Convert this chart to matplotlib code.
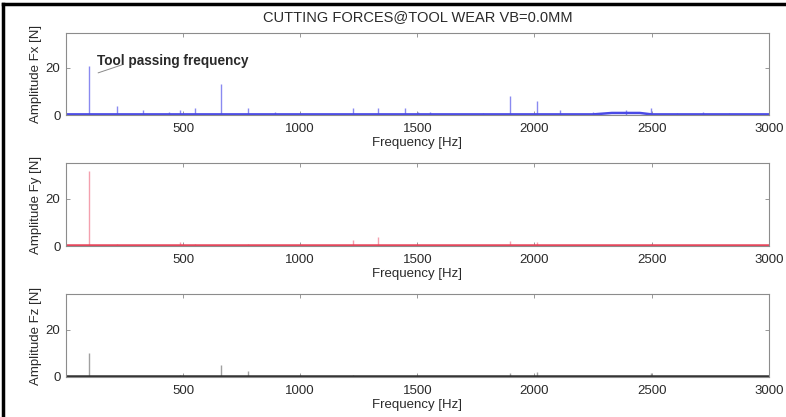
import numpy as np
import matplotlib
matplotlib.use('Agg')
from matplotlib import pyplot as plt
from matplotlib.lines import Line2D

plt.rcParams['font.family'] = ['Liberation Sans', 'DejaVu Sans']

# peak frequencies [Hz] and amplitudes [N]
fx_freq = [100, 217, 330, 440, 487, 551, 662, 778, 893, 1000, 1226, 1333, 1449,
           1504, 1556, 1780, 1897, 2009, 2111, 2250, 2390, 2496, 2610, 2720, 2830]
fx_amp = [21, 4, 2, 1.5, 2, 3, 13, 3, 1.5, 1, 3, 3, 3,
          1.5, 1.5, 1, 8, 6, 2, 1.5, 2, 3, 1, 1.5, 1]

fy_freq = [100, 217, 487, 551, 778, 1226, 1333, 1897, 2009, 2496]
fy_amp = [32, 1, 1.5, 1, 1, 2.5, 4, 2, 1.5, 1]

fz_freq = [100, 487, 662, 778, 1000, 1226, 1897, 2009, 2496]
fz_amp = [10, 1, 5, 2.5, 1, 1, 1.5, 2, 1.5]

# noise floor
floor_freq = [0, 2250, 2330, 2450, 2500, 3000]
fx_floor = [0.3, 0.3, 0.9, 0.9, 0.3, 0.3]
fy_floor = [0.3, 0.3, 0.3, 0.3, 0.3, 0.3]
fz_floor = [0.3, 0.3, 0.3, 0.3, 0.3, 0.3]

xticks = [500, 1000, 1500, 2000, 2500, 3000]
yticks = [0, 20]

panels = [
    ('Amplitude Fx [N]', fx_freq, fx_amp, fx_floor, '#4a4ae6', '#8a8af0'),
    ('Amplitude Fy [N]', fy_freq, fy_amp, fy_floor, '#e8445a', '#f4a0ae'),
    ('Amplitude Fz [N]', fz_freq, fz_amp, fz_floor, '#303030', '#a0a0a0'),
]

fig = plt.figure(figsize=(7.86, 4.17), dpi=100)
bottoms = [0.724, 0.410, 0.096]
txt = '#2a2a2a'

axes = []
for (lab, fr, amp, fl, col, pcol), b in zip(panels, bottoms):
    ax = fig.add_axes([0.084, b, 0.894, 0.198])
    ax.vlines(fr, 0, amp, color=pcol, lw=1.0)
    ax.plot(floor_freq, fl, color=col, lw=1.8)
    ax.set_xlim(0, 3000)
    ax.set_ylim(0, 35)
    ax.set_xticks(xticks)
    ax.set_yticks(yticks)
    ax.tick_params(direction='in', length=3, width=0.6, colors='#888888',
                   labelcolor=txt, labelsize=9.5, top=True, right=True)
    ax.tick_params(axis='x', pad=6)
    ax.tick_params(axis='y', pad=4)
    for s in ax.spines.values():
        s.set_color('#8c8c8c')
        s.set_linewidth(0.8)
    ax.set_xlabel('Frequency [Hz]', fontsize=9.5, color=txt, labelpad=1)
    ax.set_ylabel(lab, fontsize=9.5, color=txt, labelpad=3)
    axes.append(ax)

axes[0].set_title('CUTTING FORCES@TOOL WEAR VB=0.0MM', fontsize=10.5, color=txt, pad=8)
axes[0].text(133, 23, 'Tool passing frequency', fontsize=9.8, fontweight='bold',
             color=txt, va='center', ha='left')
axes[0].annotate('', xy=(137, 17.9), xytext=(239, 21.3),
                 arrowprops=dict(arrowstyle='-', color='#888888', lw=0.7,
                                 shrinkA=0, shrinkB=0))

# frame round the picture (top and left)
fig.add_artist(Line2D([0.004, 1.0], [0.99, 0.99], color='black', lw=2.5))
fig.add_artist(Line2D([0.004, 0.004], [0.0, 0.99], color='black', lw=2.5))

fig.savefig('out.png', dpi=100)
